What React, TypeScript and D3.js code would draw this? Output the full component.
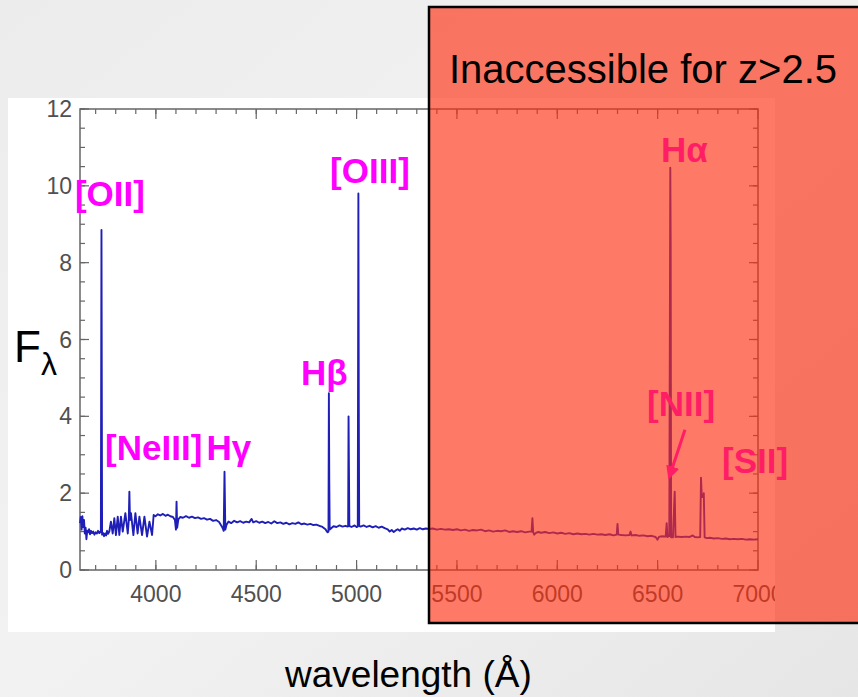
import React from "react";
import * as d3 from "d3";

// ---- Data ----
const wavelengths = [
  3622, 3626, 3630, 3634, 3638, 3642, 3646, 3650, 3654, 3658, 3662, 3667, 3672, 3677, 3682, 3688, 3694, 3700, 3706, 3712, 3718, 3723, 3726, 3729, 3732,
  3737, 3742, 3747, 3752, 3757, 3762, 3768, 3776, 3785, 3793, 3801, 3810, 3818, 3826, 3835, 3848, 3860, 3865, 3868, 3871, 3876, 3888, 3898, 3909, 3918,
  3931, 3943, 3956, 3968, 3981, 3989, 3998, 4010, 4022, 4035, 4048, 4060, 4072, 4085, 4095, 4100, 4103, 4106, 4112, 4122, 4135, 4150, 4165, 4180, 4195,
  4210, 4225, 4240, 4255, 4270, 4285, 4300, 4315, 4330, 4338, 4342, 4346, 4352, 4362, 4375, 4390, 4405, 4420, 4435, 4450, 4465, 4477, 4485, 4500, 4515,
  4530, 4545, 4560, 4575, 4590, 4605, 4620, 4635, 4650, 4665, 4680, 4695, 4710, 4725, 4740, 4755, 4770, 4785, 4800, 4815, 4830, 4845, 4852, 4856, 4860,
  4862, 4864, 4866, 4872, 4885, 4900, 4915, 4930, 4945, 4955, 4958, 4960, 4962, 4964, 4975, 4990, 5000, 5006, 5009, 5011, 5013, 5020, 5035, 5050, 5065,
  5080, 5095, 5110, 5125, 5140, 5155, 5165, 5175, 5185, 5195, 5205, 5215, 5225, 5240, 5255, 5270, 5285, 5300, 5315, 5330, 5345, 5360, 5380, 5400, 5420,
  5440, 5460, 5480, 5500, 5520, 5540, 5560, 5580, 5600, 5620, 5640, 5660, 5680, 5700, 5720, 5740, 5760, 5780, 5800, 5820, 5840, 5860, 5872, 5876, 5880,
  5885, 5892, 5905, 5920, 5940, 5960, 5980, 6000, 6020, 6040, 6060, 6080, 6100, 6120, 6140, 6160, 6180, 6200, 6220, 6240, 6260, 6280, 6296, 6300, 6304,
  6320, 6340, 6360, 6365, 6370, 6390, 6410, 6430, 6450, 6470, 6490, 6499, 6508, 6525, 6540, 6545, 6549, 6558, 6563, 6565, 6567, 6576, 6585, 6589, 6600,
  6620, 6640, 6660, 6675, 6685, 6700, 6712, 6716, 6720, 6726, 6730, 6734, 6745, 6760, 6780, 6800, 6820, 6840, 6860, 6880, 6900, 6920, 6940, 6960, 6980,
  7000,
];
const fluxes = [
  1.22, 1.38, 1.05, 1.4, 1.12, 1.3, 0.95, 1.1, 0.8, 1.02, 0.98, 1.06, 0.93, 1.02, 0.96, 1.0, 0.92, 0.98, 0.95, 1.02, 0.96, 1.0, 0.98, 8.85, 0.92,
  0.96, 0.88, 0.95, 0.9, 1.02, 0.94, 1.0, 1.26, 0.95, 1.35, 0.91, 1.39, 0.91, 1.39, 1.0, 1.48, 0.95, 1.3, 2.04, 1.3, 1.48, 0.91, 1.48, 0.95, 1.39,
  0.91, 1.39, 0.87, 1.26, 0.91, 1.43, 1.4, 1.45, 1.42, 1.46, 1.41, 1.44, 1.4, 1.38, 1.3, 1.05, 1.78, 1.1, 1.32, 1.38, 1.36, 1.4, 1.36, 1.39, 1.35,
  1.37, 1.33, 1.35, 1.31, 1.33, 1.28, 1.3, 1.25, 1.12, 1.02, 2.56, 1.05, 1.18, 1.26, 1.22, 1.28, 1.24, 1.27, 1.23, 1.26, 1.24, 1.33, 1.24, 1.27, 1.23,
  1.26, 1.22, 1.25, 1.21, 1.27, 1.22, 1.24, 1.2, 1.23, 1.19, 1.22, 1.2, 1.24, 1.19, 1.21, 1.18, 1.2, 1.17, 1.18, 1.15, 1.12, 1.06, 1.0, 0.98, 1.0,
  4.6, 2.3, 1.05, 1.08, 1.14, 1.12, 1.16, 1.13, 1.15, 1.13, 1.14, 4.0, 2.6, 1.14, 1.12, 1.16, 1.12, 1.13, 9.8, 4.3, 1.15, 1.13, 1.16, 1.12, 1.15,
  1.11, 1.14, 1.1, 1.13, 1.09, 1.06, 1.0, 1.04, 0.99, 1.03, 1.06, 1.02, 1.08, 1.05, 1.09, 1.06, 1.08, 1.05, 1.09, 1.06, 1.08, 1.07, 1.08, 1.05, 1.07,
  1.05, 1.06, 1.04, 1.06, 1.03, 1.05, 1.02, 1.04, 1.03, 1.05, 1.01, 1.03, 1.0, 1.02, 1.01, 1.03, 0.99, 1.01, 0.99, 1.01, 0.98, 1.0, 1.0, 1.35, 0.98,
  0.92, 0.96, 0.99, 0.97, 0.99, 0.96, 0.98, 0.95, 0.97, 0.94, 0.96, 0.93, 0.95, 0.93, 0.94, 0.92, 0.94, 0.92, 0.93, 0.91, 0.93, 0.9, 0.92, 1.2, 0.92,
  0.91, 0.9, 0.91, 1.0, 0.9, 0.91, 0.89, 0.9, 0.88, 0.89, 0.86, 0.79, 0.87, 0.88, 0.87, 1.22, 0.86, 0.88, 10.47, 8.5, 0.85, 0.85, 2.04, 0.86, 0.87,
  0.86, 0.87, 0.86, 0.9, 0.86, 0.85, 0.86, 2.4, 1.9, 1.9, 2.0, 0.85, 0.83, 0.84, 0.82, 0.83, 0.81, 0.82, 0.8, 0.81, 0.8, 0.81, 0.79, 0.8, 0.79,
  0.8,
];

const xMajorTicks = [4000, 4500, 5000, 5500, 6000, 6500, 7000];
const xMinorTicks = d3.range(3700, 7000, 100);
const yMajorTicks = [0, 2, 4, 6, 8, 10, 12];
const yMinorTicks = d3.range(0, 12.01, 0.5);

// Line labels: text and anchor (wavelength, flux) of the text's left baseline
const lineLabelText = ["[OII]", "[NeIII]", "Hγ", "Hβ", "[OIII]", "Hα", "[NII]", "[SII]"];
const lineLabelWave = [3597, 3747, 4252, 4723, 4868, 6517, 6447, 6821];
const lineLabelFlux = [9.48, 2.86, 2.86, 4.82, 10.08, 10.62, 4.01, 2.53];

// [NII] pointer arrow (wavelength, flux) from -> to
const arrowWave = [6636, 6558];
const arrowFlux = [3.65, 2.42];

const W = 858;
const H = 697;

export default function App() {
  const x = d3.scaleLinear().domain([3622, 7000]).range([80, 758]);
  const y = d3.scaleLinear().domain([0, 12]).range([570, 109]);

  const pts: [number, number][] = wavelengths.map((w, i) => [w, fluxes[i]]);
  const line = d3
    .line<[number, number]>()
    .x((d) => x(d[0]))
    .y((d) => y(d[1]));

  const [x0, x1] = x.range();
  const [yb, yt] = y.range();
  const axisColor = "#666";
  const tickTextColor = "#505050";
  const font = "'Liberation Sans', Arial, Helvetica, sans-serif";
  const magenta = "#ff00ff";

  const ax0 = x(arrowWave[0]);
  const ay0 = y(arrowFlux[0]);
  const ax1 = x(arrowWave[1]);
  const ay1 = y(arrowFlux[1]);

  return (
    <svg
      width={W}
      height={H}
      style={{ position: "absolute", left: 0, top: 0 }}
      xmlns="http://www.w3.org/2000/svg"
    >
      <defs>
        <linearGradient id="bg" x1="0" y1="0" x2="1" y2="1">
          <stop offset="0" stopColor="#ececec" />
          <stop offset="0.5" stopColor="#f2f2f2" />
          <stop offset="1" stopColor="#e6e6e6" />
        </linearGradient>
        <clipPath id="panel">
          <rect x={8} y={98} width={767} height={534} />
        </clipPath>
        <marker
          id="arrowhead"
          viewBox="0 0 10 10"
          refX="8"
          refY="5"
          markerWidth="4.5"
          markerHeight="4.5"
          orient="auto"
        >
          <path d="M0,0 L10,5 L0,10 z" fill={magenta} />
        </marker>
      </defs>
      <rect x={0} y={0} width={W} height={H} fill="url(#bg)" />
      <rect x={8} y={98} width={767} height={534} fill="#ffffff" />

      <g clipPath="url(#panel)">
        {/* axes frame */}
        <rect x={x0} y={yt} width={x1 - x0} height={yb - yt} fill="none" stroke={axisColor} strokeWidth={1.5} />

        {/* x ticks */}
        {xMinorTicks.map((t) => (
          <g key={"xm" + t}>
            <line x1={x(t)} x2={x(t)} y1={yb} y2={yb - 5} stroke={axisColor} strokeWidth={1.2} />
            <line x1={x(t)} x2={x(t)} y1={yt} y2={yt + 5} stroke={axisColor} strokeWidth={1.2} />
          </g>
        ))}
        {xMajorTicks.map((t) => (
          <g key={"xM" + t}>
            <line x1={x(t)} x2={x(t)} y1={yb} y2={yb - 10} stroke={axisColor} strokeWidth={1.2} />
            <line x1={x(t)} x2={x(t)} y1={yt} y2={yt + 10} stroke={axisColor} strokeWidth={1.2} />
            <text
              x={x(t)}
              y={602}
              textAnchor="middle"
              fontFamily={font}
              fontSize={23}
              fill={tickTextColor}
            >
              {t}
            </text>
          </g>
        ))}

        {/* y ticks */}
        {yMinorTicks.map((t) => (
          <g key={"ym" + t}>
            <line x1={x0} x2={x0 + 5} y1={y(t)} y2={y(t)} stroke={axisColor} strokeWidth={1.2} />
            <line x1={x1} x2={x1 - 5} y1={y(t)} y2={y(t)} stroke={axisColor} strokeWidth={1.2} />
          </g>
        ))}
        {yMajorTicks.map((t) => (
          <g key={"yM" + t}>
            <line x1={x0} x2={x0 + 9} y1={y(t)} y2={y(t)} stroke={axisColor} strokeWidth={1.2} />
            <line x1={x1} x2={x1 - 9} y1={y(t)} y2={y(t)} stroke={axisColor} strokeWidth={1.2} />
            <text
              x={72}
              y={y(t) + 8}
              textAnchor="end"
              fontFamily={font}
              fontSize={23}
              fill={tickTextColor}
            >
              {t}
            </text>
          </g>
        ))}

        {/* spectrum */}
        <path d={line(pts) || ""} fill="none" stroke="#1f1fb8" strokeWidth={1.9} strokeLinejoin="round" />
      </g>

      {/* line labels */}
      {lineLabelText.map((s, i) => (
        <text
          key={s}
          x={x(lineLabelWave[i])}
          y={y(lineLabelFlux[i])}
          fontFamily={font}
          fontWeight="bold"
          fontSize={35}
          fill={magenta}
        >
          {s}
        </text>
      ))}
      <line
        x1={ax0}
        y1={ay0}
        x2={ax1}
        y2={ay1}
        stroke={magenta}
        strokeWidth={3}
        markerEnd="url(#arrowhead)"
      />

      {/* inaccessible overlay */}
      <rect x={429} y={7} width={W - 429} height={616} fill="rgb(255,47,16)" fillOpacity={0.64} />
      <path d={`M${W},7 L429,7 L429,623 L${W},623`} fill="none" stroke="#000" strokeWidth={2.5} />
      <text x={449} y={83} fontFamily={font} fontSize={40} fill="#000">
        Inaccessible for z&gt;2.5
      </text>

      {/* axis titles */}
      <text x={14} y={362} fontFamily={font} fontSize={44} fill="#000">
        F
      </text>
      <text x={41} y={375} fontFamily={font} fontSize={32} fill="#000">
        λ
      </text>
      <text x={285} y={687} fontFamily={font} fontSize={37} fill="#000">
        wavelength (Å)
      </text>
    </svg>
  );
}
